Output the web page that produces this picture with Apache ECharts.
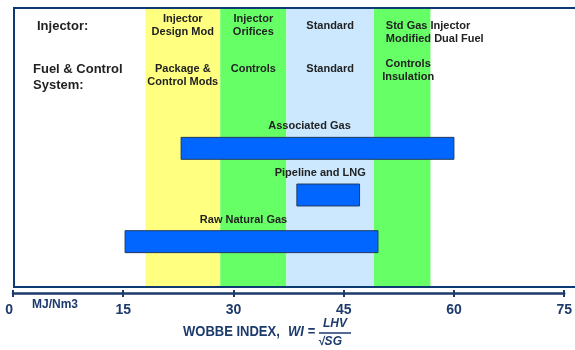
<!DOCTYPE html>
<html>
<head>
<meta charset="utf-8">
<script src="https://cdn.jsdelivr.net/npm/echarts@6/dist/echarts.min.js"></script>
<style>
  html, body { margin: 0; padding: 0; background: #fff; }
  #chart { width: 575px; height: 350px; }
</style>
</head>
<body>
<div id="chart"></div>
<script>
// Wobbe index scale (MJ/Nm3)
const axisMin = 0;
const axisMax = 75;
const axisStep = 15;

// Engine configuration bands along the Wobbe index
const bandStart = [18, 28.2, 37.2, 49.1];
const bandEnd = [28.2, 37.2, 49.1, 56.8];
const injectorRow = ['Injector\nDesign Mod', 'Injector\nOrifices', 'Standard', 'Std Gas Injector\nModified Dual Fuel'];
const controlRow = ['Package &\nControl Mods', 'Controls', 'Standard', 'Controls\nInsulation'];

// Gas sources and their Wobbe index ranges
const fuels = ['Raw Natural Gas', 'Pipeline and LNG', 'Associated Gas'];
const wobbeLow = [15.2, 38.5, 22.8];
const wobbeHigh = [49.5, 47, 59.8];

const NAVY = '#1c3a6b';
const TEXT = '#222222';
const FONT = '"Liberation Sans", Arial, sans-serif';
const bandColors = ['#ffff80', '#66ff66', '#cce8ff', '#66ff66'];

const chart = echarts.init(document.getElementById('chart'), null, { renderer: 'canvas' });

const bandAreas = bandStart.map((s, i) => [
  { xAxis: s, itemStyle: { color: bandColors[i], opacity: 1 } },
  { xAxis: bandEnd[i] }
]);

const option = {
  animation: false,
  grid: [
    { left: 13, right: 9, top: 9, bottom: 63 },
    { left: 13, right: 9, top: 125, height: 140 }
  ],
  xAxis: [
    {
      gridIndex: 0, type: 'value', min: axisMin, max: axisMax, interval: axisStep,
      position: 'bottom', offset: 6,
      axisLine: { show: true, onZero: false, lineStyle: { color: NAVY, width: 2.5 } },
      axisTick: { show: true, inside: false, length: 4, lineStyle: { color: NAVY, width: 2 } },
      axisLabel: {
        show: true, margin: 10, color: NAVY, fontFamily: FONT, fontWeight: 'bold', fontSize: 14,
        alignMinLabel: 'right'
      },
      splitLine: { show: false }
    },
    {
      gridIndex: 0, type: 'value', min: axisMin, max: axisMax, interval: axisStep,
      position: 'bottom', offset: 6,
      axisLine: { show: false, onZero: false },
      axisTick: { show: true, inside: true, length: 3, lineStyle: { color: NAVY, width: 2 } },
      axisLabel: { show: false },
      splitLine: { show: false }
    },
    {
      gridIndex: 1, type: 'value', min: axisMin, max: axisMax, show: false
    }
  ],
  yAxis: [
    { gridIndex: 0, type: 'value', min: 0, max: 1, show: false },
    { gridIndex: 1, type: 'category', data: fuels, show: false }
  ],
  series: [
    {
      type: 'line', xAxisIndex: 0, yAxisIndex: 0, data: [], silent: true,
      markArea: { silent: true, label: { show: false }, data: bandAreas }
    },
    {
      type: 'custom', xAxisIndex: 2, yAxisIndex: 1, z: 5,
      data: fuels.map((f, i) => [wobbeLow[i], wobbeHigh[i], i]),
      renderItem: function (params, api) {
        const lo = api.coord([api.value(0), api.value(2)]);
        const hi = api.coord([api.value(1), api.value(2)]);
        const h = api.size([0, 1])[1] * 0.47;
        const top = lo[1] - h / 2;
        return {
          type: 'group',
          children: [
            {
              type: 'rect',
              shape: { x: lo[0], y: top, width: hi[0] - lo[0], height: h },
              style: { fill: '#0066ff', stroke: '#223a5e', lineWidth: 1 }
            },
            {
              type: 'text',
              style: {
                x: (lo[0] + hi[0]) / 2 - 8, y: top - 11,
                text: fuels[params.dataIndex],
                align: 'center', verticalAlign: 'middle',
                font: 'bold 11px ' + FONT, fill: TEXT
              }
            }
          ]
        };
      }
    }
  ]
};

chart.setOption(option);

// Header labels over each band, placed from the axis scale
const px = v => chart.convertToPixel({ xAxisIndex: 0 }, v);
const lineH = 13;
const injectorFirstLine = [19, 19, 26, 26];
const controlFirstLine = [69, 69, 69, 64];
const graphics = [];

bandStart.forEach((s, i) => {
  const x0 = px(s), x1 = px(bandEnd[i]);
  const mid = (x0 + x1) / 2;
  const leftAligned = i === 3;
  graphics.push({
    type: 'text', z: 10,
    style: {
      x: leftAligned ? x0 + 12 : mid, y: injectorFirstLine[i] - lineH / 2,
      text: injectorRow[i], align: leftAligned ? 'left' : 'center', verticalAlign: 'top',
      font: 'bold 11px ' + FONT, lineHeight: lineH, fill: TEXT
    }
  });
  graphics.push({
    type: 'text', z: 10,
    style: {
      x: i === 3 ? mid + 6 : mid, y: controlFirstLine[i] - lineH / 2,
      text: controlRow[i], align: 'center', verticalAlign: 'top',
      font: 'bold 11px ' + FONT, lineHeight: lineH, fill: TEXT
    }
  });
});

// Plot frame
graphics.push({
  type: 'rect', z: 20, silent: true,
  shape: { x: 14, y: 8, width: 700, height: 279 },
  style: { fill: 'none', stroke: '#0d3a72', lineWidth: 2 }
});

// Row headings
graphics.push({
  type: 'text', z: 10,
  style: { x: 37, y: 26, text: 'Injector:', align: 'left', verticalAlign: 'middle',
           font: 'bold 13px ' + FONT, fill: TEXT }
});
graphics.push({
  type: 'text', z: 10,
  style: { x: 33, y: 61, text: 'Fuel & Control\nSystem:', align: 'left', verticalAlign: 'top',
           font: 'bold 13px ' + FONT, lineHeight: 16, fill: TEXT }
});

// Axis unit and title with the Wobbe index formula
graphics.push({
  type: 'text', z: 10,
  style: { x: 32, y: 305, text: 'MJ/Nm3', align: 'left', verticalAlign: 'middle',
           font: 'bold 12px ' + FONT, fill: NAVY }
});
graphics.push({
  type: 'text', z: 10, x: 183, y: 332, scaleY: 1.15,
  style: { x: 0, y: 0, text: 'WOBBE INDEX,', align: 'left', verticalAlign: 'middle',
           font: 'bold 13px ' + FONT, fill: NAVY }
});
graphics.push({
  type: 'text', z: 10, x: 288, y: 332, scaleY: 1.15,
  style: { x: 0, y: 0, text: 'WI =', align: 'left', verticalAlign: 'middle',
           font: 'italic bold 13px ' + FONT, fill: NAVY }
});
graphics.push({
  type: 'text', z: 10,
  style: { x: 335, y: 324, text: 'LHV', align: 'center', verticalAlign: 'middle',
           font: 'italic bold 12px ' + FONT, fill: NAVY }
});
graphics.push({
  type: 'line', z: 10,
  shape: { x1: 319, y1: 333, x2: 351, y2: 333 },
  style: { stroke: NAVY, lineWidth: 1.5 }
});
graphics.push({
  type: 'text', z: 10,
  style: { x: 330, y: 342, text: '\u221ASG', align: 'center', verticalAlign: 'middle',
           font: 'italic bold 12px ' + FONT, fill: NAVY }
});

chart.setOption({ graphic: graphics });
</script>
</body>
</html>
